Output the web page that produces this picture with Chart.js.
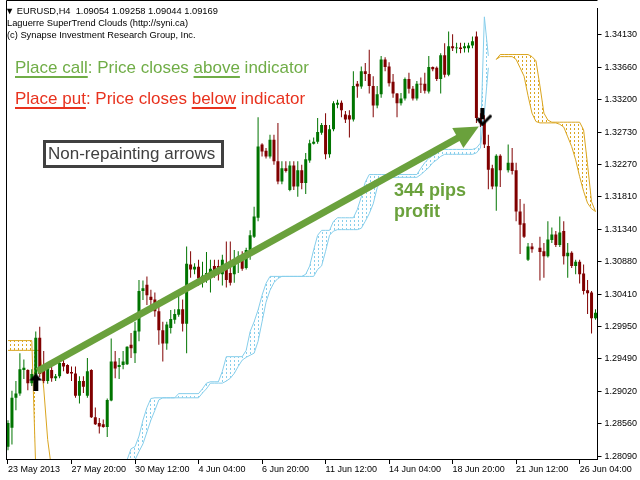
<!DOCTYPE html>
<html>
<head>
<meta charset="utf-8">
<script src="https://cdn.jsdelivr.net/npm/chart.js@4.4.1/dist/chart.umd.min.js"></script>
<style>
  html, body { margin: 0; padding: 0; background: #fff; }
  canvas { display: block; }
</style>
</head>
<body>
<canvas id="chart" width="640" height="480"></canvas>
<script>
// EURUSD H4 bars, 23 May - 26 Jun 2013
const tickLabels = ['23 May 2013', '27 May 20:00', '30 May 12:00', '4 Jun 04:00', '6 Jun 20:00',
  '11 Jun 12:00', '14 Jun 04:00', '18 Jun 20:00', '21 Jun 12:00', '26 Jun 04:00'];
const yTicks = [1.34130, 1.33660, 1.33200, 1.32730, 1.32270, 1.31810, 1.31340,
  1.30880, 1.30410, 1.29950, 1.29490, 1.29020, 1.28560, 1.28090];

const open = [
  1.2823, 1.2850, 1.2893, 1.2899, 1.2933, 1.2933, 1.2914, 1.2920, 1.2979, 1.2934,
  1.2917, 1.2933, 1.2921, 1.2924, 1.2943, 1.2940, 1.2930, 1.2928, 1.2896, 1.2917,
  1.2896, 1.2933, 1.2865, 1.2857, 1.2855, 1.2851, 1.2889, 1.2945, 1.2937, 1.2940,
  1.2941, 1.2969, 1.2957, 1.2988, 1.3046, 1.3055, 1.3038, 1.3034, 1.3017, 1.2990,
  1.2971, 1.2993, 1.3005, 1.3012, 1.3020, 1.2999, 1.3084, 1.3077, 1.3081, 1.3062,
  1.3067, 1.3070, 1.3082, 1.3082, 1.3070, 1.3084, 1.3072, 1.3070, 1.3091, 1.3094,
  1.3079, 1.3102, 1.3124, 1.3151, 1.3256, 1.3247, 1.3239, 1.3263, 1.3232, 1.3203,
  1.3222, 1.3191, 1.3226, 1.3196, 1.3219, 1.3201, 1.3233, 1.3257, 1.3260, 1.3273,
  1.3284, 1.3242, 1.3278, 1.3313, 1.3316, 1.3299, 1.3298, 1.3292, 1.3343, 1.3339,
  1.3361, 1.3357, 1.3340, 1.3312, 1.3328, 1.3378, 1.3368, 1.3346, 1.3329, 1.3315,
  1.3322, 1.3350, 1.3336, 1.3322, 1.3343, 1.3343, 1.3332, 1.3367, 1.3366, 1.3350,
  1.3384, 1.3356, 1.3397, 1.3394, 1.3395, 1.3394, 1.3394, 1.3398, 1.3411, 1.3294,
  1.3288, 1.3254, 1.3222, 1.3196, 1.3240, null, 1.3219, 1.3230, 1.3219, 1.3160,
  1.3143, 1.3091, 1.3110, null, 1.3108, 1.3103, 1.3096, 1.3119, 1.3127, 1.3112,
  1.3132, 1.3096, 1.3101, 1.3082, 1.3088, 1.3071, 1.3047, 1.3044, 1.3007
];
const high = [
  1.2861, 1.2903, 1.2917, 1.2957, 1.2948, 1.2934, 1.2934, 1.2988, 1.2995, 1.2960,
  1.2938, 1.2938, 1.2927, 1.2945, 1.2950, 1.2941, 1.2938, 1.2938, 1.2924, 1.2924,
  1.2950, 1.2934, 1.2879, 1.2864, 1.2862, 1.2892, 1.2978, 1.2960, 1.2950, 1.2960,
  1.2967, 1.2986, 1.3002, 1.3062, 1.3061, 1.3067, 1.3048, 1.3044, 1.3033, 1.3002,
  1.3002, 1.3019, 1.3020, 1.3040, 1.3034, 1.3110, 1.3103, 1.3086, 1.3091, 1.3088,
  1.3102, 1.3091, 1.3091, 1.3091, 1.3098, 1.3117, 1.3117, 1.3105, 1.3103, 1.3103,
  1.3108, 1.3133, 1.3167, 1.3295, 1.3258, 1.3251, 1.3270, 1.3270, 1.3287, 1.3232,
  1.3232, 1.3232, 1.3232, 1.3232, 1.3227, 1.3244, 1.3263, 1.3266, 1.3294, 1.3287,
  1.3301, 1.3284, 1.3318, 1.3320, 1.3319, 1.3304, 1.3305, 1.3361, 1.3347, 1.3368,
  1.3373, 1.3392, 1.3354, 1.3340, 1.3383, 1.3381, 1.3374, 1.3357, 1.3330, 1.3330,
  1.3352, 1.3359, 1.3340, 1.3347, 1.3352, 1.3359, 1.3383, 1.3368, 1.3368, 1.3387,
  1.3401, 1.3418, 1.3414, 1.3402, 1.3402, 1.3402, 1.3402, 1.3411, 1.3418, 1.3301,
  1.3298, 1.3270, 1.3227, 1.3242, 1.3242, null, 1.3256, 1.3251, 1.3230, 1.3178,
  1.3171, 1.3115, 1.3115, null, 1.3124, 1.3115, 1.3146, 1.3137, 1.3132, 1.3153,
  1.3146, 1.3115, 1.3103, 1.3091, 1.3091, 1.3084, 1.3062, 1.3046, 1.3020
];
const low = [
  1.2818, 1.2826, 1.2875, 1.2896, 1.2920, 1.2904, 1.2910, 1.2916, 1.2923, 1.2914,
  1.2913, 1.2916, 1.2917, 1.2921, 1.2931, 1.2927, 1.2917, 1.2893, 1.2885, 1.2900,
  1.2893, 1.2864, 1.2854, 1.2842, 1.2850, 1.2837, 1.2888, 1.2921, 1.2920, 1.2934,
  1.2940, 1.2950, 1.2943, 1.2974, 1.3033, 1.3026, 1.3026, 1.3009, 1.2969, 1.2945,
  1.2962, 1.2985, 1.2999, 1.3009, 1.2988, 1.2957, 1.3065, 1.3070, 1.3054, 1.3051,
  1.3058, 1.3044, 1.3065, 1.3061, 1.3054, 1.3051, 1.3054, 1.3058, 1.3072, 1.3075,
  1.3077, 1.3091, 1.3122, 1.3146, 1.3239, 1.3236, 1.3236, 1.3227, 1.3199, 1.3199,
  1.3216, 1.3189, 1.3191, 1.3181, 1.3192, 1.3185, 1.3230, 1.3256, 1.3257, 1.3270,
  1.3235, 1.3237, 1.3275, 1.3308, 1.3295, 1.3287, 1.3266, 1.3289, 1.3323, 1.3336,
  1.3347, 1.3329, 1.3295, 1.3308, 1.3323, 1.3361, 1.3339, 1.3323, 1.3295, 1.3312,
  1.3319, 1.3329, 1.3319, 1.3319, 1.3330, 1.3329, 1.3329, 1.3361, 1.3347, 1.3329,
  1.3352, 1.3354, 1.3390, 1.3387, 1.3387, 1.3388, 1.3388, 1.3394, 1.3287, 1.3281,
  1.3251, 1.3192, 1.3192, 1.3161, 1.3195, null, 1.3216, 1.3213, 1.3146, 1.3099,
  1.3122, 1.3089, 1.3101, null, 1.3061, 1.3065, 1.3094, 1.3115, 1.3109, 1.3109,
  1.3084, 1.3065, 1.3079, 1.3070, 1.3057, 1.3041, 1.3013, 1.2985, 1.3005
];
const close = [
  1.2857, 1.2893, 1.2899, 1.2934, 1.2936, 1.2914, 1.2927, 1.2979, 1.2927, 1.2917,
  1.2935, 1.2921, 1.2924, 1.2943, 1.2938, 1.2928, 1.2928, 1.2896, 1.2917, 1.2909,
  1.2931, 1.2865, 1.2855, 1.2852, 1.2851, 1.2890, 1.2945, 1.2935, 1.2940, 1.2945,
  1.2966, 1.2964, 1.2989, 1.3046, 1.3050, 1.3040, 1.3033, 1.3017, 1.2990, 1.2971,
  1.2998, 1.3006, 1.3013, 1.3020, 1.2999, 1.3085, 1.3077, 1.3081, 1.3064, 1.3068,
  1.3072, 1.3078, 1.3074, 1.3070, 1.3091, 1.3062, 1.3058, 1.3084, 1.3096, 1.3078,
  1.3105, 1.3126, 1.3153, 1.3253, 1.3246, 1.3239, 1.3263, 1.3232, 1.3203, 1.3222,
  1.3218, 1.3226, 1.3196, 1.3219, 1.3201, 1.3235, 1.3258, 1.3260, 1.3274, 1.3284,
  1.3242, 1.3278, 1.3315, 1.3316, 1.3305, 1.3292, 1.3292, 1.3340, 1.3339, 1.3361,
  1.3357, 1.3340, 1.3312, 1.3328, 1.3378, 1.3367, 1.3344, 1.3329, 1.3315, 1.3322,
  1.3350, 1.3336, 1.3322, 1.3343, 1.3342, 1.3333, 1.3367, 1.3364, 1.3350, 1.3384,
  1.3356, 1.3397, 1.3394, 1.3395, 1.3393, 1.3397, 1.3398, 1.3404, 1.3294, 1.3287,
  1.3256, 1.3220, 1.3196, 1.3240, 1.3219, null, 1.3230, 1.3218, 1.3160, 1.3141,
  1.3124, 1.3110, 1.3106, null, 1.3102, 1.3096, 1.3120, 1.3127, 1.3112, 1.3130,
  1.3096, 1.3101, 1.3082, 1.3088, 1.3070, 1.3046, 1.3043, 1.3007, 1.3015
];

// SuperTrend cloud lines, first bar index + values
const blueUpperStart = 30;
const blueUpper = [
  1.2804, 1.2820, 1.2823, 1.2838, 1.2861, 1.2879, 1.2892,
  1.2893, 1.2893, 1.2893, 1.2893, 1.2893, 1.2893,
  1.2899, 1.2899, 1.2899, 1.2899, 1.2899, 1.2899,
  1.2906, 1.2914, 1.2916, 1.2916, 1.2916, 1.2931,
  1.2952, 1.2952, 1.2952, 1.2952, 1.2952,
  1.2961, 1.2988, 1.3002, 1.3019, 1.3040, 1.3057,
  1.3067, 1.3067, 1.3067, 1.3067, 1.3067, 1.3067, 1.3067, 1.3067, 1.3067,
  1.3070, 1.3082, 1.3105, 1.3126, 1.3133, 1.3133, 1.3133, 1.3146,
  1.3151, 1.3151, 1.3151, 1.3151, 1.3151, 1.3163, 1.3181, 1.3202,
  1.3213, 1.3213, 1.3213, 1.3213, 1.3213, 1.3213, 1.3213, 1.3213, 1.3213, 1.3213, 1.3213, 1.3213, 1.3213,
  1.3222, 1.3230, 1.3236, 1.3240, 1.3243,
  1.3249, 1.3249, 1.3249, 1.3249, 1.3249, 1.3249, 1.3249, 1.3249, 1.3249,
  1.3251, 1.3258, 1.3439, 1.3383
];
const blueLowerStart = 30;
const blueLower = [
  1.2790, 1.2795, 1.2804, 1.2816, 1.2827, 1.2844, 1.2861, 1.2875, 1.2890,
  1.2893, 1.2893, 1.2893, 1.2893, 1.2893, 1.2893, 1.2893, 1.2893, 1.2893, 1.2893,
  1.2900, 1.2906, 1.2914, 1.2914, 1.2914, 1.2914,
  1.2917, 1.2921, 1.2928, 1.2938, 1.2947, 1.2951, 1.2954, 1.2957, 1.2974, 1.3002,
  1.3030, 1.3047, 1.3058, 1.3064,
  1.3067, 1.3067, 1.3067, 1.3067, 1.3067, 1.3067, 1.3067, 1.3067, 1.3067,
  1.3077, 1.3082, 1.3103, 1.3126, 1.3132,
  1.3134, 1.3134, 1.3134, 1.3134, 1.3134, 1.3134,
  1.3136, 1.3146, 1.3157, 1.3171, 1.3194, 1.3205,
  1.3209, 1.3209, 1.3209, 1.3209, 1.3209, 1.3209, 1.3209, 1.3209, 1.3209,
  1.3213, 1.3218, 1.3223, 1.3230, 1.3234, 1.3239,
  1.3242, 1.3242, 1.3242, 1.3242, 1.3242, 1.3242, 1.3242, 1.3242,
  1.3244, 1.3251, 1.3301, 1.3366
];
const orangeUpperLeft = [1.2975, 1.2975, 1.2975, 1.2975, 1.2975, 1.2975, 1.2975, 1.2790];
const orangeLowerLeft = [1.2961, 1.2961, 1.2961, 1.2961, 1.2961, 1.2961, 1.2961, 1.2961, 1.2961,
  1.2907, 1.2833, 1.2790];
const orangeRightStart = 123;
const orangeUpperRight = [
  1.3378, 1.3385, 1.3385, 1.3385, 1.3385, 1.3385, 1.3385, 1.3385, 1.3385,
  1.3382, 1.3376, 1.3340, 1.3301, 1.3291,
  1.3288, 1.3288, 1.3288, 1.3288, 1.3288, 1.3288, 1.3288, 1.3288,
  1.3277, 1.3227, 1.3174, 1.3160
];
const orangeLowerRight = [
  1.3378, 1.3382, 1.3382, 1.3382, 1.3382, 1.3378, 1.3366, 1.3354, 1.3326, 1.3301, 1.3289,
  1.3287, 1.3287, 1.3287, 1.3287, 1.3287,
  1.3285, 1.3281, 1.3267, 1.3253, 1.3234, 1.3210, 1.3189, 1.3172, 1.3164, 1.3160
];

// signal arrows and the drawn trade arrow
const upArrowBar = [7], upArrowPrice = [1.2915];
const downArrowBar = [120], downArrowPrice = [1.3295];
const tradeFrom = [7.4, 1.2931], tradeTo = [118.6, 1.3282];

const bull = '#007400';
const bear = '#800000';
const cloudBlue = '#87ceeb';
const cloudOrange = '#daa520';
const barCount = open.length;

function place(start, values, out) {
  out = out || new Array(barCount).fill(null);
  values.forEach((v, k) => { out[start + k] = v; });
  return out;
}

const canvas = document.getElementById('chart');
const ctx = canvas.getContext('2d');

function hatch(color) {
  const p = document.createElement('canvas');
  p.width = 4; p.height = 4;
  const pc = p.getContext('2d');
  pc.fillStyle = color;
  pc.fillRect(2, 0, 1, 2);
  return ctx.createPattern(p, 'repeat');
}

function arrowImage(up) {
  const c = document.createElement('canvas');
  const g = c.getContext('2d');
  g.fillStyle = '#000';
  g.strokeStyle = '#000';
  if (up) {
    c.width = 13; c.height = 18;
    g.beginPath();
    g.moveTo(6.5, 0); g.lineTo(13, 7); g.lineTo(9, 7); g.lineTo(9, 18);
    g.lineTo(4, 18); g.lineTo(4, 7); g.lineTo(0, 7);
    g.closePath(); g.fill();
  } else {
    c.width = 16; c.height = 18;
    g.fillRect(4, 0, 4, 11);
    g.lineWidth = 3;
    g.beginPath();
    g.moveTo(1, 10); g.lineTo(6, 16); g.lineTo(15, 7);
    g.stroke();
  }
  return c;
}

const labels = open.map((_, i) => (i % 16 === 0 ? tickLabels[i / 16] : ''));
const candleColor = c => (close[c.dataIndex] >= open[c.dataIndex] ? bull : bear);

const overlay = {
  id: 'overlay',
  afterDatasetsDraw(chart) {
    const c = chart.ctx, xs = chart.scales.x, ys = chart.scales.y;
    const x0 = xs.getPixelForValue(tradeFrom[0]), y0 = ys.getPixelForValue(tradeFrom[1]);
    const x1 = xs.getPixelForValue(tradeTo[0]), y1 = ys.getPixelForValue(tradeTo[1]);
    const len = Math.hypot(x1 - x0, y1 - y0);
    const ux = (x1 - x0) / len, uy = (y1 - y0) / len;
    const bx = x1 - ux * 24, by = y1 - uy * 24;
    c.save();
    c.strokeStyle = '#6aa13c';
    c.fillStyle = '#6aa13c';
    c.lineWidth = 7;
    c.beginPath(); c.moveTo(x0, y0); c.lineTo(bx + ux, by + uy); c.stroke();
    c.beginPath();
    c.moveTo(x1, y1);
    c.lineTo(bx - uy * 11.5, by + ux * 11.5);
    c.lineTo(bx + uy * 11.5, by - ux * 11.5);
    c.closePath(); c.fill();
    c.restore();
  },
  afterDraw(chart) {
    const c = chart.ctx, a = chart.chartArea;
    c.save();
    c.strokeStyle = '#000'; c.lineWidth = 1;
    c.beginPath();
    c.moveTo(Math.floor(a.left) + 0.5, a.bottom);
    c.lineTo(Math.floor(a.left) + 0.5, 0.5);
    c.lineTo(a.right, 0.5);
    c.stroke();

    c.fillStyle = '#000';
    c.font = '9.3px "Liberation Sans"';
    c.fillText('\u25BC EURUSD,H4  1.09054 1.09258 1.09044 1.09169', 5, 14);
    c.font = '9.3px "Liberation Sans"';
    c.fillText('Laguerre SuperTrend Clouds (http://syni.ca)', 7, 26);
    c.fillText('(c) Synapse Investment Research Group, Inc.', 7, 38);

    const line = (parts, x, y, color) => {
      c.font = '17px "Liberation Sans"';
      c.fillStyle = color;
      parts.forEach(p => {
        const w = c.measureText(p[0]).width;
        c.fillText(p[0], x, y);
        if (p[1]) c.fillRect(x, y + 3, w, 2);
        x += w;
      });
    };
    line([['Place call', true], [': Price closes '], ['above', true], [' indicator']], 15, 73, '#70ad47');
    line([['Place put', true], [': Price closes '], ['below', true], [' indicator']], 15, 104, '#e8321e');

    c.fillStyle = '#fff';
    c.fillRect(44, 141, 179, 26);
    c.strokeStyle = '#404040'; c.lineWidth = 3;
    c.strokeRect(44.5, 141.5, 178, 25);
    c.fillStyle = '#404040';
    c.font = '17px "Liberation Sans"';
    c.fillText('Non-repainting arrows', 48, 159);

    c.fillStyle = '#6aa13c';
    c.font = 'bold 18px "Liberation Sans"';
    c.fillText('344 pips', 394, 196);
    c.fillText('profit', 394, 217);
    c.restore();
  }
};

new Chart(ctx, {
  type: 'bar',
  data: {
    labels: labels,
    datasets: [
      { type: 'line', data: place(blueUpperStart, blueUpper), borderColor: cloudBlue, borderWidth: 1,
        pointRadius: 0, fill: false, order: 3, spanGaps: false },
      { type: 'line', data: place(blueLowerStart, blueLower), borderColor: cloudBlue, borderWidth: 1,
        pointRadius: 0, fill: '-1', backgroundColor: hatch(cloudBlue), order: 3, spanGaps: false },
      { type: 'line', data: place(orangeRightStart, orangeUpperRight, place(0, orangeUpperLeft)),
        borderColor: cloudOrange, borderWidth: 1, pointRadius: 0, fill: false, order: 3, spanGaps: false },
      { type: 'line', data: place(orangeRightStart, orangeLowerRight, place(0, orangeLowerLeft)),
        borderColor: cloudOrange, borderWidth: 1, pointRadius: 0, fill: '-1',
        backgroundColor: hatch(cloudOrange), order: 3, spanGaps: false },
      { data: low.map((l, i) => (l == null ? null : [l, high[i]])), backgroundColor: candleColor,
        barThickness: 1, grouped: false, borderWidth: 0, inflateAmount: 0, order: 2 },
      { data: open.map((o, i) => (o == null ? null : [o, close[i]])), backgroundColor: candleColor,
        barThickness: 3, grouped: false, borderWidth: 0, inflateAmount: 0, order: 1 },
      { type: 'line', showLine: false, data: place(upArrowBar[0], upArrowPrice),
        pointStyle: arrowImage(true), pointRadius: 5, order: 0 },
      { type: 'line', showLine: false, data: place(downArrowBar[0], downArrowPrice),
        pointStyle: arrowImage(false), pointRadius: 5, order: 0 }
    ]
  },
  options: {
    responsive: false,
    animation: false,
    devicePixelRatio: 1,
    events: [],
    layout: { padding: { left: 1.5, top: 1, right: 0, bottom: 0 } },
    plugins: { legend: { display: false }, tooltip: { enabled: false } },
    scales: {
      x: {
        type: 'category',
        offset: true,
        grid: {
          offset: false, drawOnChartArea: false, drawTicks: true, tickLength: 5,
          color: c => (c.index % 16 === 0 ? '#000' : 'rgba(0,0,0,0)')
        },
        border: { display: true, color: '#000' },
        ticks: {
          autoSkip: false, maxRotation: 0, minRotation: 0, align: 'start', padding: 0,
          color: '#000', font: { family: 'Liberation Sans', size: 9 }
        },
        afterFit: s => { s.height = 21; }
      },
      y: {
        position: 'right',
        min: 1.28053,
        max: 1.34511,
        afterBuildTicks: s => { s.ticks = yTicks.map(v => ({ value: v })); },
        grid: { drawOnChartArea: false, tickLength: 4, color: '#000' },
        border: { display: true, color: '#000' },
        ticks: {
          padding: 3, color: '#000', font: { family: 'Liberation Sans', size: 9 },
          callback: v => v.toFixed(5)
        },
        afterFit: s => { s.width = 42.5; }
      }
    }
  },
  plugins: [overlay]
});
</script>
</body>
</html>
